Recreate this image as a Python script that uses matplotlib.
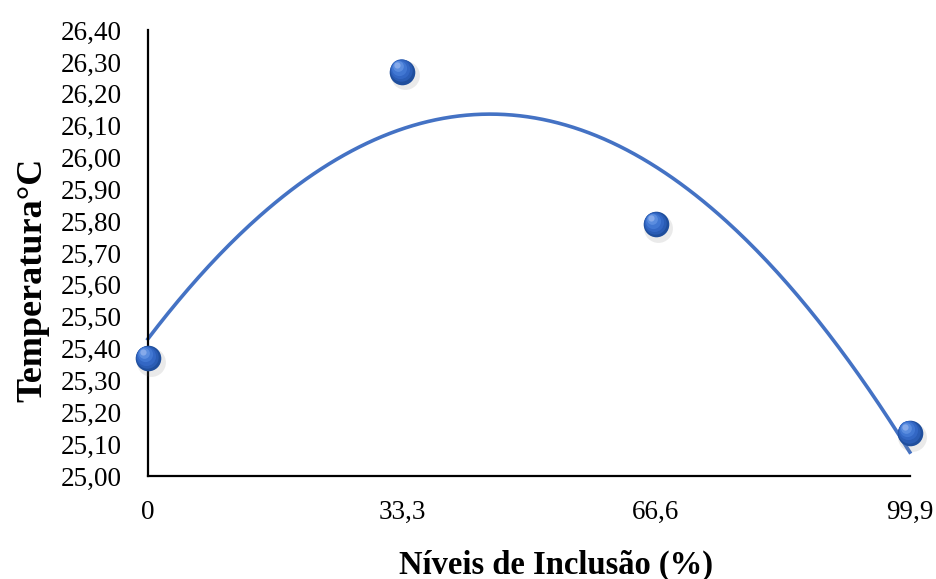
import numpy as np
import matplotlib
matplotlib.use('Agg')
import matplotlib.pyplot as plt
from matplotlib.ticker import FuncFormatter

# níveis de inclusão (%) e temperatura média (°C)
niveis = [0, 33.3, 66.6, 99.9]
temperatura = [25.37, 26.27, 25.79, 25.135]
y_ticks = [25.00, 25.10, 25.20, 25.30, 25.40, 25.50, 25.60, 25.70,
           25.80, 25.90, 26.00, 26.10, 26.20, 26.30, 26.40]
x_labels = ['0', '33,3', '66,6', '99,9']

plt.rcParams['font.family'] = ['Liberation Serif', 'DejaVu Serif']

fig = plt.figure(figsize=(9.36, 5.79), dpi=100)
ax = fig.add_axes([0.158, 0.178, 0.814, 0.770])

# linha de tendência polinomial de 2a ordem
coef = np.polyfit(niveis, temperatura, 2)
xs = np.linspace(niveis[0], niveis[-1], 300)
ax.plot(xs, np.polyval(coef, xs), color='#4472C4', lw=2.6, zorder=2,
        clip_on=False)

# marcadores em forma de esfera: sombra + camadas de degradê
ax.scatter(np.array(niveis) + 0.35, np.array(temperatura) - 0.012, s=430,
           color='#7f7f7f', alpha=0.16, lw=0, zorder=3, clip_on=False)
ax.scatter(niveis, temperatura, s=340, color='#1f4e9c', lw=0, zorder=4,
           clip_on=False)
for k, (sz, c) in enumerate([(260, '#2a5cb4'), (190, '#3367c4'),
                             (120, '#4177d2'), (60, '#5b8ddf'),
                             (20, '#86aaea')]):
    dx = -0.12 * (k + 1)
    dy = 0.004 * (k + 1)
    ax.scatter(np.array(niveis) + dx, np.array(temperatura) + dy, s=sz,
               color=c, lw=0, zorder=5 + k, clip_on=False)

ax.set_xlim(0, 99.9)
ax.set_ylim(25.00, 26.40)
ax.set_xticks(niveis)
ax.set_xticklabels(x_labels)
ax.set_yticks(y_ticks)
ax.yaxis.set_major_formatter(
    FuncFormatter(lambda v, p: f'{v:.2f}'.replace('.', ',')))
ax.tick_params(axis='both', length=0, labelsize=19.5)
ax.tick_params(axis='y', pad=19)
ax.tick_params(axis='x', pad=17)

for s in ['top', 'right']:
    ax.spines[s].set_visible(False)
for s in ['left', 'bottom']:
    ax.spines[s].set_linewidth(1.6)
    ax.spines[s].set_color('black')

ax.set_xlabel('Níveis de Inclusão (%)', fontsize=23.5, fontweight='bold',
              labelpad=18)
ax.set_ylabel('Temperatura°C', fontsize=26, fontweight='bold', labelpad=8)
ax.xaxis.label.set_x(0.535)
ax.yaxis.label.set_y(0.44)

fig.savefig('out.png', dpi=100)
